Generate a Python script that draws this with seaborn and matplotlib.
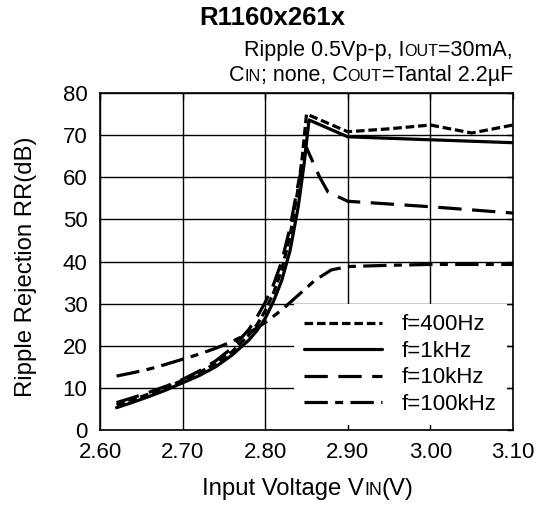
import numpy as np
import pandas as pd
import seaborn as sns
import matplotlib.pyplot as plt
from matplotlib.offsetbox import TextArea, HPacker, VPacker, AnchoredOffsetbox

# Values
vin_400 = [2.62, 2.64, 2.66, 2.68, 2.70, 2.72, 2.74, 2.76, 2.78, 2.79, 2.80, 2.81,
           2.82, 2.83, 2.84, 2.845, 2.85, 2.90, 2.95, 3.00, 3.05, 3.10]
rr_400 = [6.0, 7.2, 8.6, 10.1, 11.8, 13.6, 15.8, 18.6, 22.5, 25.0, 28.3, 32.5,
          38.0, 46.0, 57.5, 65.0, 75.0, 70.8, 71.5, 72.4, 70.5, 72.4]

vin_1k = [2.62, 2.64, 2.66, 2.68, 2.70, 2.72, 2.74, 2.76, 2.78, 2.79, 2.80, 2.81,
          2.82, 2.83, 2.84, 2.847, 2.853, 2.90, 3.00, 3.10]
rr_1k = [5.3, 6.6, 8.0, 9.5, 11.2, 12.9, 15.0, 17.8, 21.3, 23.6, 26.5, 30.5,
         35.5, 42.5, 53.0, 63.0, 73.6, 69.6, 68.9, 68.2]

vin_10k = [2.62, 2.64, 2.66, 2.68, 2.70, 2.72, 2.74, 2.76, 2.78, 2.79, 2.80, 2.81,
           2.82, 2.83, 2.84, 2.85, 2.866, 2.876, 2.90, 3.00, 3.10]
rr_10k = [6.5, 7.7, 9.0, 10.4, 12.0, 14.0, 16.4, 19.5, 23.8, 26.8, 30.3, 34.5,
          40.0, 48.0, 58.5, 67.0, 60.0, 56.5, 54.3, 53.0, 51.5]

vin_100k = [2.62, 2.64, 2.66, 2.68, 2.70, 2.72, 2.74, 2.76, 2.78, 2.80, 2.82, 2.84,
            2.86, 2.88, 2.90, 2.95, 3.00, 3.10]
rr_100k = [12.8, 13.6, 14.5, 15.6, 16.8, 18.0, 19.4, 21.0, 23.0, 25.5, 28.5, 32.0,
           35.5, 38.0, 38.8, 39.1, 39.3, 39.3]

labels = ["f=400Hz", "f=1kHz", "f=10kHz", "f=100kHz"]
x_ticks = [2.60, 2.70, 2.80, 2.90, 3.00, 3.10]
y_ticks = [0, 10, 20, 30, 40, 50, 60, 70, 80]

frames = []
for lab, xs, ys in zip(labels, [vin_400, vin_1k, vin_10k, vin_100k],
                       [rr_400, rr_1k, rr_10k, rr_100k]):
    frames.append(pd.DataFrame({"vin": xs, "rr": ys, "freq": lab}))
df = pd.concat(frames, ignore_index=True)

sns.set_style("white")
plt.rcParams['font.family'] = ['Liberation Sans', 'DejaVu Sans']
plt.rcParams['text.color'] = 'black'
plt.rcParams['xtick.color'] = 'black'
plt.rcParams['ytick.color'] = 'black'

fig = plt.figure(figsize=(5.48, 5.09), dpi=100)
ax = fig.add_axes([100 / 548, 1 - 430 / 509, 413 / 548, 337 / 509])

dash_map = {
    "f=400Hz": (2.7, 1.2),
    "f=1kHz": "",
    "f=10kHz": (7.3, 3.3),
    "f=100kHz": (7.3, 2.3, 2.5, 2.3),
}
sns.lineplot(data=df, x="vin", y="rr", style="freq", style_order=labels,
             dashes=dash_map, color="black", linewidth=2.3,
             estimator=None, sort=False, ax=ax)

ax.set_xlim(2.60, 3.10)
ax.set_ylim(0, 80)
ax.set_xticks(x_ticks)
ax.set_xticklabels([f"{t:.2f}" for t in x_ticks])
ax.set_yticks(y_ticks)
ax.grid(True, color="black", linewidth=1.0)
ax.set_axisbelow(True)
for s in ax.spines.values():
    s.set_color("black")
    s.set_linewidth(1.2)
ax.tick_params(direction="in", length=4.5, width=1.0, labelsize=16, pad=9,
               top=True, right=True, color="black", labelcolor="black")
ax.set_xlabel("")
ax.set_ylabel("")

handles, _ = ax.get_legend_handles_labels()
leg = ax.legend(handles, labels, loc="lower right",
                bbox_to_anchor=(407 / 413, 5 / 337), borderaxespad=0,
                frameon=True, fancybox=False, framealpha=1, edgecolor="none",
                fontsize=16, handlelength=3.5, handletextpad=0.9,
                labelspacing=0.25, borderpad=0.45)
for t in leg.get_texts():
    t.set_color("black")
leg.set_zorder(5)


def sc_line(parts, size, ratio=0.75, weight="normal"):
    boxes = []
    for text, small in parts:
        fs = size * ratio if small else size
        boxes.append(TextArea(text, textprops=dict(size=fs, color="black", weight=weight)))
    return HPacker(children=boxes, align="baseline", pad=0, sep=0)


# Conditions text (with small caps subscripts)
line1 = sc_line([("Ripple 0.5Vp-p, I", False), ("OUT", True), ("=30mA,", False)], 15.5)
line2 = sc_line([("C", False), ("IN", True), ("; none, C", False), ("OUT", True),
                 ("=Tantal 2.2\u00b5F", False)], 15.5)
cond = VPacker(children=[line1, line2], align="right", pad=0, sep=3)
fig.add_artist(AnchoredOffsetbox(loc="upper right", child=cond, pad=0, borderpad=0,
                                 frameon=False, bbox_to_anchor=(513 / 548, 1 - 40 / 509),
                                 bbox_transform=fig.transFigure))

xlab = sc_line([("Input Voltage V", False), ("IN", True), ("(V)", False)], 17.2)
fig.add_artist(AnchoredOffsetbox(loc="center", child=xlab, pad=0, borderpad=0,
                                 frameon=False, bbox_to_anchor=(308 / 548, 1 - 489 / 509),
                                 bbox_transform=fig.transFigure))

fig.text(26 / 548, 1 - 267 / 509, "Ripple Rejection RR(dB)", rotation=90,
         ha="center", va="center", fontsize=17.2, color="black")
fig.text(272 / 548, 1 - 18 / 509, "R1160x261x", ha="center", va="center",
         fontsize=18.5, weight="bold", color="black")

fig.savefig("out.png", dpi=100)
plt.close(fig)
